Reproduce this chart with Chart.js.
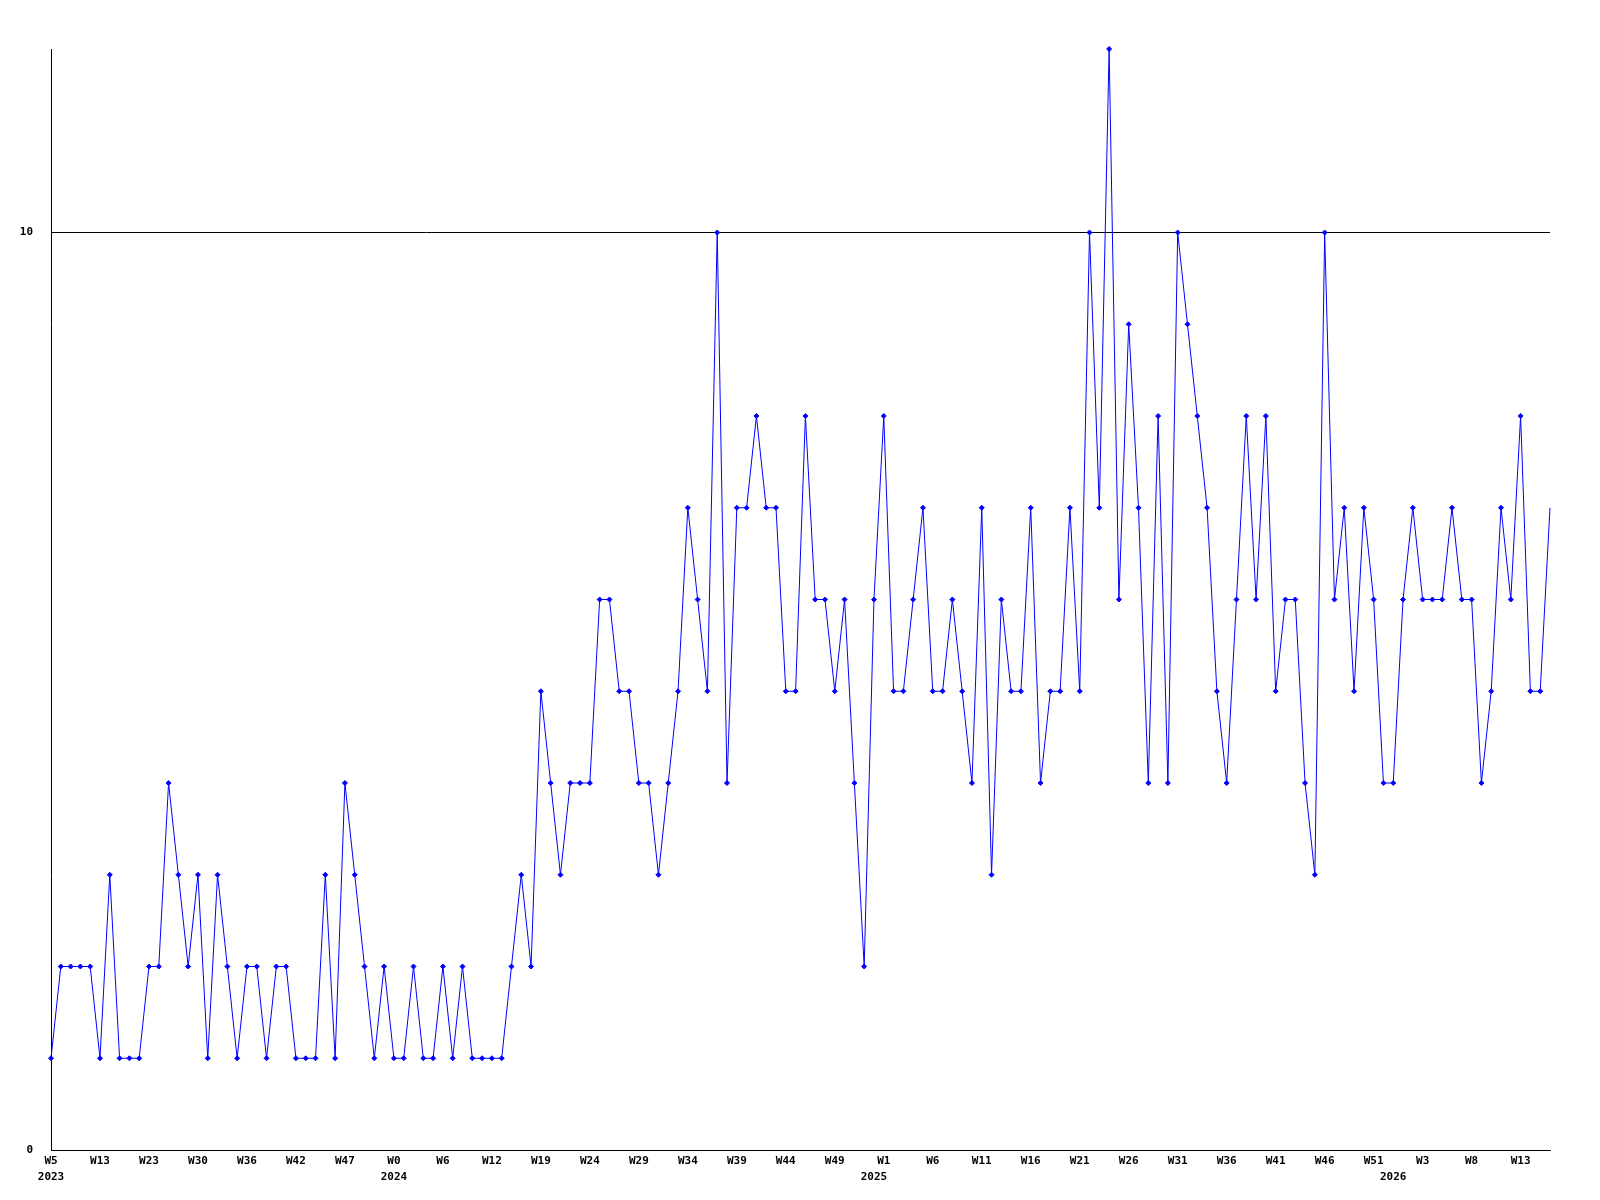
<!DOCTYPE html>
<html>
<head>
<meta charset="utf-8">
<script src="https://cdn.jsdelivr.net/npm/chart.js@4/dist/chart.umd.min.js"></script>
<style>
    html, body { margin: 0; padding: 0; background: #fff; }
    #chart { display: block; }
</style>
</head>
<body>
<canvas id="chart" width="1600" height="1200"></canvas>
<script>
// week number of each point (2023 W5 .. 2026 W16)
const weekLabels = [
    'W5', 'W7', 'W8', 'W10', 'W11', 'W13', 'W15', 'W17', 'W19', 'W21',
    'W23', 'W24', 'W26', 'W27', 'W29', 'W30', 'W31', 'W33', 'W34', 'W35',
    'W36', 'W37', 'W39', 'W40', 'W41', 'W42', 'W43', 'W44', 'W45', 'W46',
    'W47', 'W48', 'W49', 'W50', 'W51',
    'W0', 'W1', 'W3', 'W4', 'W5', 'W6', 'W7', 'W8', 'W10', 'W11',
    'W12', 'W14', 'W15', 'W16', 'W18', 'W19', 'W20', 'W21', 'W22', 'W23',
    'W24', 'W25', 'W26', 'W27', 'W28', 'W29', 'W30', 'W31', 'W32', 'W33',
    'W34', 'W35', 'W36', 'W37', 'W38', 'W39', 'W40', 'W41', 'W42', 'W43',
    'W44', 'W45', 'W46', 'W47', 'W48', 'W49', 'W50', 'W51', 'W52',
    'W0', 'W1', 'W2', 'W3', 'W4', 'W5', 'W6', 'W7', 'W8', 'W9',
    'W10', 'W11', 'W12', 'W13', 'W14', 'W15', 'W16', 'W17', 'W18', 'W19',
    'W20', 'W21', 'W22', 'W23', 'W24', 'W25', 'W26', 'W27', 'W28', 'W29',
    'W30', 'W31', 'W32', 'W33', 'W34', 'W35', 'W36', 'W37', 'W38', 'W39',
    'W40', 'W41', 'W42', 'W43', 'W44', 'W45', 'W46', 'W47', 'W48', 'W49',
    'W50', 'W51', 'W52',
    'W0', 'W1', 'W2', 'W3', 'W4', 'W5', 'W6', 'W7', 'W8', 'W9',
    'W10', 'W11', 'W12', 'W13', 'W14', 'W15', 'W16'
];

const values = [
    1, 2, 2, 2, 2, 1, 3, 1, 1, 1,
    2, 2, 4, 3, 2, 3, 1, 3, 2, 1,
    2, 2, 1, 2, 2, 1, 1, 1, 3, 1,
    4, 3, 2, 1, 2, 1, 1, 2, 1, 1,
    2, 1, 2, 1, 1, 1, 1, 2, 3, 2,
    5, 4, 3, 4, 4, 4, 6, 6, 5, 5,
    4, 4, 3, 4, 5, 7, 6, 5, 10, 4,
    7, 7, 8, 7, 7, 5, 5, 8, 6, 6,
    5, 6, 4, 2, 6, 8, 5, 5, 6, 7,
    5, 5, 6, 5, 4, 7, 3, 6, 5, 5,
    7, 4, 5, 5, 7, 5, 10, 7, 12, 6,
    9, 7, 4, 8, 4, 10, 9, 8, 7, 5,
    4, 6, 8, 6, 8, 5, 6, 6, 4, 3,
    10, 6, 7, 5, 7, 6, 4, 4, 6, 7,
    6, 6, 6, 7, 6, 6, 4, 5, 7, 6,
    8, 5, 5, 7
];

// year captions under the first week of each year
const yearIdx = [0, 35, 84, 137];
const yearNames = ['2023', '2024', '2025', '2026'];

const yTicks = [0, 10];
const yMax = 12;

const labelFont = { family: "'DejaVu Sans Mono', monospace", size: 11, weight: 'bold', lineHeight: 1.45 };

const ctx = document.getElementById('chart').getContext('2d');

new Chart(ctx, {
    type: 'line',
    data: {
        labels: weekLabels,
        datasets: [{
            data: values,
            borderColor: '#0000ff',
            backgroundColor: '#0000ff',
            borderWidth: 1,
            tension: 0,
            pointStyle: 'rectRot',
            // last point sits on the plot edge, no marker there in the original
            pointRadius: (c) => c.dataIndex === values.length - 1 ? 0 : 2.5,
            pointBorderWidth: 1,
            pointBackgroundColor: '#0000ff',
            pointBorderColor: '#0000ff',
            clip: false
        }]
    },
    options: {
        responsive: false,
        animation: false,
        events: [],
        layout: {
            padding: { left: 0, top: 49, right: 50, bottom: 0 }
        },
        plugins: {
            legend: { display: false },
            tooltip: { enabled: false }
        },
        scales: {
            x: {
                type: 'category',
                offset: false,
                grid: { display: false, drawTicks: false },
                border: { display: true, color: '#000', width: 1 },
                ticks: {
                    autoSkip: false,
                    maxRotation: 0,
                    minRotation: 0,
                    padding: 3,
                    color: '#000',
                    font: labelFont,
                    callback: (val, i) => {
                        const week = i % 5 === 0 ? weekLabels[i] : '';
                        const y = yearIdx.indexOf(i);
                        if (y >= 0) return [week, yearNames[y]];
                        return week;
                    }
                },
                afterFit: (scale) => { scale.height = 50; }
            },
            y: {
                min: 0,
                max: yMax,
                grid: {
                    color: (c) => c.tick && c.tick.value === 10 ? '#000' : 'rgba(0,0,0,0)',
                    lineWidth: 1,
                    drawTicks: false
                },
                border: { display: true, color: '#000', width: 1 },
                afterBuildTicks: (scale) => {
                    scale.ticks = yTicks.map(v => ({ value: v }));
                },
                ticks: {
                    padding: 18,
                    color: '#000',
                    font: labelFont
                },
                afterFit: (scale) => { scale.width = 51; }
            }
        }
    }
});
</script>
</body>
</html>
